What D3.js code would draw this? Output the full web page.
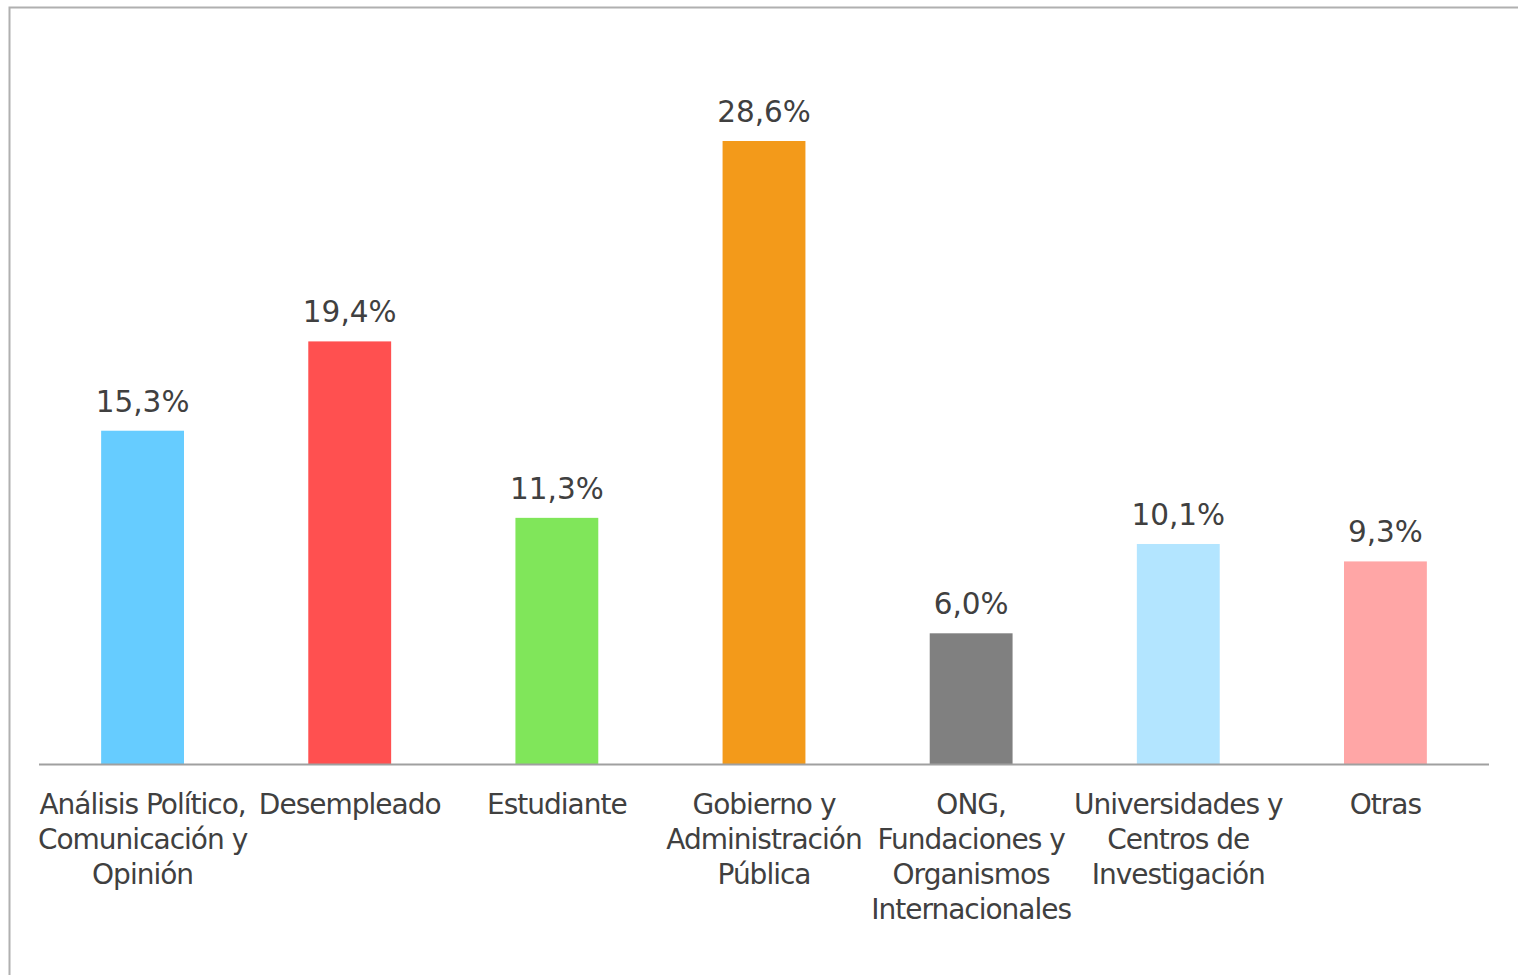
<!DOCTYPE html>
<html>
<head>
<meta charset="utf-8">
<title>Ocupación</title>
<style>
  html, body { margin: 0; padding: 0; background: #fff; }
  svg { display: block; }
  text { font-family: "DejaVu Sans", Verdana, sans-serif; fill: #404040; }
</style>
</head>
<body>
<svg id="chart" width="1518" height="975"></svg>
<script src="https://d3js.org/d3.v7.min.js"></script>
<script>
// categories, one array of lines per label
const categories = [
    ["Análisis Político,", "Comunicación y", "Opinión"],
    ["Desempleado"],
    ["Estudiante"],
    ["Gobierno y", "Administración", "Pública"],
    ["ONG,", "Fundaciones y", "Organismos", "Internacionales"],
    ["Universidades y", "Centros de", "Investigación"],
    ["Otras"]
];
const values = [15.3, 19.4, 11.3, 28.6, 6.0, 10.1, 9.3];
const colors = ["#66CCFF", "#FF5050", "#80E65A", "#F39A1A", "#808080", "#B3E5FF", "#FFA6A6"];

const svg = d3.select("#chart");

// outer frame (runs past the right and bottom edge)
svg.append("rect")
    .attr("x", 9.5).attr("y", 7.5)
    .attr("width", 1530).attr("height", 1000)
    .attr("fill", "none")
    .attr("stroke", "#b0b0b0")
    .attr("stroke-width", 2);

const x = d3.scaleBand()
    .domain(d3.range(values.length))
    .range([39, 1489])
    .paddingInner(0.6)
    .paddingOuter(0.3);

const y = d3.scaleLinear()
    .domain([0, 28.6])
    .range([764, 141]);

const fmt = v => d3.format(".1f")(v).replace(".", ",") + "%";

svg.selectAll("rect.bar")
    .data(values)
    .join("rect")
    .attr("class", "bar")
    .attr("x", (d, i) => x(i))
    .attr("y", d => y(d))
    .attr("width", x.bandwidth())
    .attr("height", d => y(0) - y(d))
    .attr("fill", (d, i) => colors[i]);

svg.selectAll("text.val")
    .data(values)
    .join("text")
    .attr("class", "val")
    .attr("x", (d, i) => x(i) + x.bandwidth() / 2)
    .attr("y", d => y(d) - 19)
    .attr("text-anchor", "middle")
    .attr("font-size", 29.5)
    .text(fmt);

// baseline
svg.append("line")
    .attr("x1", 39).attr("x2", 1489)
    .attr("y1", y(0) + 0.5).attr("y2", y(0) + 0.5)
    .attr("stroke", "#a0a0a0")
    .attr("stroke-width", 2);

const labels = svg.selectAll("text.cat")
    .data(categories)
    .join("text")
    .attr("class", "cat")
    .attr("text-anchor", "middle")
    .attr("font-size", 28)
    .attr("letter-spacing", -1);

labels.selectAll("tspan")
    .data((d, i) => d.map(line => ({ line, i })))
    .join("tspan")
    .attr("x", d => x(d.i) + x.bandwidth() / 2)
    .attr("y", (d, j) => 814 + j * 35)
    .text(d => d.line);
</script>
</body>
</html>
